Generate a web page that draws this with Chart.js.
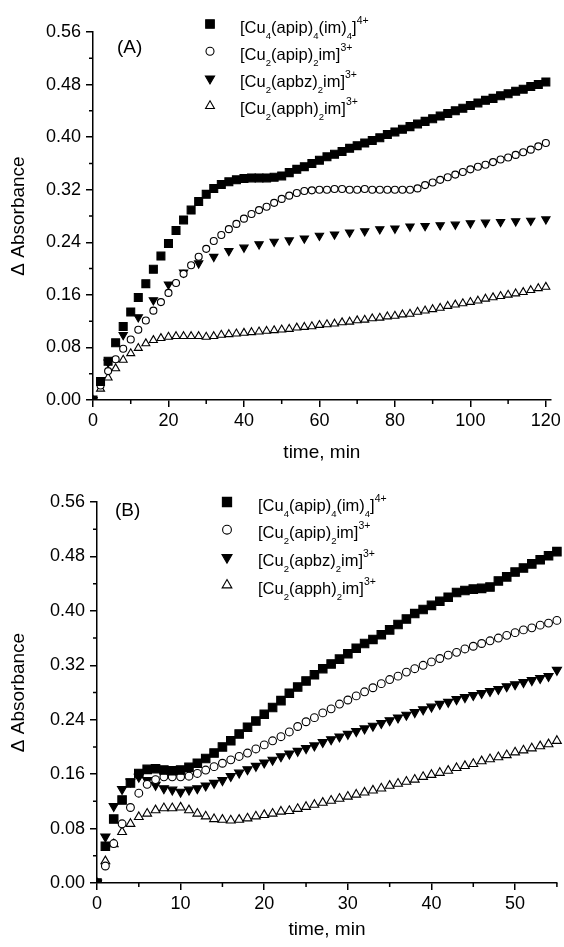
<!DOCTYPE html>
<html>
<head>
<meta charset="utf-8">
<script src="https://cdn.jsdelivr.net/npm/chart.js@4.4.1/dist/chart.umd.min.js"></script>
<style>
  body { margin: 0; background: #fff; }
  .panel { position: absolute; left: 0; width: 564px; }
  #boxA { top: 0; height: 470px; }
  #boxB { top: 470px; height: 477px; }
</style>
</head>
<body>
<div class="panel" id="boxA"><canvas id="chartA"></canvas></div>
<div class="panel" id="boxB"><canvas id="chartB"></canvas></div>
<script>
// legend text, "_" = subscript, "^" = superscript
const legendParts = [
    ['[Cu', '_4', '(apip)', '_4', '(im)', '_4', ']', '^4+'],
    ['[Cu', '_2', '(apip)', '_2', 'im]', '^3+'],
    ['[Cu', '_2', '(apbz)', '_2', 'im]', '^3+'],
    ['[Cu', '_2', '(apph)', '_2', 'im]', '^3+']
];

// ---- panel A (time in min) ----
const timeA = [0, 2, 4, 6, 8, 10, 12, 14, 16, 18, 20, 22, 24, 26, 28, 30, 32, 34, 36, 38, 40,
    42, 44, 46, 48, 50, 52, 54, 56, 58, 60, 62, 64, 66, 68, 70, 72, 74, 76, 78, 80,
    82, 84, 86, 88, 90, 92, 94, 96, 98, 100, 102, 104, 106, 108, 110, 112, 114, 116, 118, 120];
const timeA4 = [0, 4, 8, 12, 16, 20, 24, 28, 32, 36, 40, 44, 48, 52, 56, 60, 64, 68, 72, 76, 80,
    84, 88, 92, 96, 100, 104, 108, 112, 116, 120];
const cu4A = [0, 0.028, 0.059, 0.087, 0.112, 0.134, 0.156, 0.177, 0.199, 0.219, 0.238,
    0.258, 0.274, 0.289, 0.302, 0.313, 0.322, 0.328, 0.332, 0.335, 0.337,
    0.338, 0.338, 0.338, 0.339, 0.341, 0.346, 0.351, 0.355, 0.360, 0.365,
    0.370, 0.374, 0.378, 0.383, 0.387, 0.391, 0.395, 0.399, 0.404, 0.408,
    0.412, 0.416, 0.420, 0.424, 0.428, 0.432, 0.436, 0.440, 0.444, 0.448,
    0.452, 0.456, 0.459, 0.463, 0.466, 0.470, 0.473, 0.477, 0.480, 0.484];
const apipA = [0, 0.022, 0.044, 0.062, 0.078, 0.092, 0.107, 0.121, 0.136, 0.149, 0.163,
    0.178, 0.192, 0.205, 0.218, 0.230, 0.242, 0.251, 0.260, 0.268, 0.276,
    0.283, 0.289, 0.294, 0.300, 0.306, 0.311, 0.315, 0.318, 0.319, 0.320,
    0.320, 0.321, 0.321, 0.320, 0.320, 0.321, 0.320, 0.320, 0.320, 0.320,
    0.320, 0.320, 0.322, 0.327, 0.331, 0.335, 0.339, 0.343, 0.347, 0.351,
    0.355, 0.358, 0.362, 0.366, 0.369, 0.373, 0.377, 0.381, 0.386, 0.391];
const apbzA = [0, 0.057, 0.099, 0.126, 0.152, 0.176, 0.194, 0.208, 0.218, 0.227, 0.232,
    0.237, 0.241, 0.243, 0.246, 0.250, 0.252, 0.255, 0.257, 0.260, 0.261,
    0.264, 0.265, 0.266, 0.267, 0.269, 0.270, 0.271, 0.272, 0.273, 0.275];
const apphA = [0, 0.017, 0.034, 0.048, 0.061, 0.071, 0.079, 0.086, 0.091, 0.094, 0.096,
    0.097, 0.097, 0.097, 0.097, 0.096, 0.097, 0.099, 0.100, 0.101, 0.102,
    0.103, 0.104, 0.105, 0.106, 0.107, 0.108, 0.110, 0.111, 0.112, 0.114,
    0.115, 0.116, 0.118, 0.119, 0.121, 0.122, 0.124, 0.125, 0.127, 0.128,
    0.130, 0.131, 0.134, 0.136, 0.138, 0.140, 0.143, 0.145, 0.147, 0.149,
    0.151, 0.154, 0.156, 0.158, 0.160, 0.162, 0.164, 0.167, 0.170, 0.172];

// ---- panel B ----
const timeB = [0, 1, 2, 3, 4, 5, 6, 7, 8, 9, 10, 11, 12, 13, 14, 15, 16, 17, 18, 19, 20,
    21, 22, 23, 24, 25, 26, 27, 28, 29, 30, 31, 32, 33, 34, 35, 36, 37, 38, 39, 40,
    41, 42, 43, 44, 45, 46, 47, 48, 49, 50, 51, 52, 53, 54, 55];
const cu4B = [0, 0.054, 0.094, 0.122, 0.147, 0.161, 0.167, 0.168, 0.166, 0.165, 0.166,
    0.170, 0.176, 0.183, 0.191, 0.200, 0.209, 0.219, 0.229, 0.238, 0.248,
    0.258, 0.268, 0.279, 0.288, 0.297, 0.306, 0.315, 0.322, 0.329, 0.337,
    0.345, 0.352, 0.358, 0.365, 0.372, 0.380, 0.388, 0.396, 0.402, 0.408,
    0.414, 0.420, 0.427, 0.430, 0.432, 0.433, 0.435, 0.444, 0.450, 0.457,
    0.463, 0.469, 0.475, 0.481, 0.487];
const apipB = [0, 0.025, 0.058, 0.087, 0.111, 0.132, 0.145, 0.152, 0.156, 0.156, 0.156,
    0.157, 0.161, 0.166, 0.171, 0.176, 0.181, 0.186, 0.191, 0.197, 0.203,
    0.209, 0.215, 0.222, 0.230, 0.237, 0.243, 0.250, 0.256, 0.263, 0.269,
    0.275, 0.281, 0.287, 0.293, 0.299, 0.304, 0.310, 0.315, 0.320, 0.325,
    0.330, 0.335, 0.339, 0.344, 0.348, 0.352, 0.356, 0.360, 0.364, 0.368,
    0.372, 0.375, 0.379, 0.382, 0.386];
const apbzB = [0, 0.068, 0.113, 0.138, 0.149, 0.156, 0.151, 0.144, 0.139, 0.137, 0.134,
    0.137, 0.139, 0.143, 0.147, 0.151, 0.157, 0.162, 0.167, 0.172, 0.177,
    0.181, 0.186, 0.190, 0.194, 0.198, 0.202, 0.207, 0.211, 0.215, 0.219,
    0.223, 0.227, 0.231, 0.235, 0.239, 0.243, 0.247, 0.251, 0.255, 0.259,
    0.263, 0.266, 0.270, 0.273, 0.276, 0.279, 0.282, 0.285, 0.289, 0.292,
    0.295, 0.298, 0.301, 0.304, 0.313];
const apphB = [0, 0.032, 0.057, 0.075, 0.087, 0.097, 0.102, 0.107, 0.110, 0.110, 0.111,
    0.107, 0.102, 0.098, 0.094, 0.093, 0.092, 0.093, 0.095, 0.098, 0.100,
    0.102, 0.105, 0.106, 0.109, 0.112, 0.115, 0.118, 0.121, 0.124, 0.127,
    0.130, 0.133, 0.136, 0.139, 0.143, 0.146, 0.149, 0.152, 0.156, 0.159,
    0.162, 0.165, 0.169, 0.172, 0.175, 0.179, 0.182, 0.185, 0.188, 0.192,
    0.195, 0.198, 0.201, 0.204, 0.209];

// minor tick positions
const yMinor = [0.04, 0.12, 0.20, 0.28, 0.36, 0.44, 0.52];
const xMinorA = [10, 30, 50, 70, 90, 110];
const xMinorB = [5, 15, 25, 35, 45, 55];

const FONT = '"Liberation Sans", Arial, sans-serif';
Chart.defaults.font.family = FONT;
Chart.defaults.color = '#000';

function pts(xs, ys) {
    return xs.map(function (x, i) { return { x: x, y: ys[i] }; });
}

function series(xs, ys, style, r) {
    var filled = (style === 'rect' || style === 'down');
    return {
        data: pts(xs, ys),
        showLine: false,
        pointStyle: style === 'down' || style === 'up' ? 'triangle' : style,
        pointRotation: style === 'down' ? 180 : 0,
        pointRadius: r,
        pointHoverRadius: r,
        pointBackgroundColor: filled ? '#000' : '#fff',
        pointBorderColor: '#000',
        pointBorderWidth: 1.1,
        clip: { left: 0, bottom: 0, top: false, right: false }
    };
}

const minorTicks = {
    id: 'minorTicks',
    afterDraw(chart, args, opts) {
        const ctx = chart.ctx, xs = chart.scales.x, ys = chart.scales.y;
        ctx.save();
        ctx.strokeStyle = '#000';
        ctx.lineWidth = 1.5;
        ctx.beginPath();
        opts.x.forEach(function (v) {
            const px = xs.getPixelForValue(v);
            ctx.moveTo(px, xs.top);
            ctx.lineTo(px, xs.top + 4);
        });
        opts.y.forEach(function (v) {
            const py = ys.getPixelForValue(v);
            ctx.moveTo(ys.right, py);
            ctx.lineTo(ys.right - 4, py);
        });
        ctx.stroke();
        ctx.restore();
    }
};

const formulaLegend = {
    id: 'formulaLegend',
    afterDraw(chart, args, opts) {
        const ctx = chart.ctx;
        ctx.save();
        chart.data.datasets.forEach(function (ds, i) {
            const y = opts.top + i * opts.rowGap;
            ctx.fillStyle = ds.pointBackgroundColor;
            ctx.strokeStyle = '#000';
            ctx.lineWidth = 1.1;
            Chart.helpers.drawPoint(ctx, {
                pointStyle: ds.pointStyle, rotation: ds.pointRotation,
                radius: ds.pointRadius + 0.5, borderWidth: 1.1
            }, opts.markerX, y);
            ctx.fillStyle = '#000';
            ctx.textBaseline = 'alphabetic';
            let x = opts.textX;
            legendParts[i].forEach(function (part) {
                let size = 16.5, dy = 0, txt = part;
                if (part[0] === '_') { size = 9.5; dy = 6; txt = part.slice(1); }
                if (part[0] === '^') { size = 10.5; dy = -9; txt = part.slice(1); }
                ctx.font = size + 'px ' + FONT;
                ctx.fillText(txt, x, y + 8.5 + dy);
                x += ctx.measureText(txt).width;
            });
        });
        ctx.font = '19px ' + FONT;
        ctx.fillText(opts.tag, opts.tagX, opts.tagY);
        ctx.restore();
    }
};

function makePanel(id, datasets, xMax, xStep, xMinor, yWidth, xHeight, padRight, legend) {
    return new Chart(document.getElementById(id), {
        type: 'scatter',
        data: { datasets: datasets },
        options: {
            responsive: true,
            maintainAspectRatio: false,
            animation: false,
            layout: { padding: { top: 32, left: 0, right: padRight, bottom: 0 } },
            plugins: {
                legend: { display: false },
                tooltip: { enabled: false },
                minorTicks: { x: xMinor, y: yMinor },
                formulaLegend: legend
            },
            scales: {
                x: {
                    type: 'linear', min: 0, max: xMax,
                    border: { color: '#000', width: 1.5 },
                    grid: { drawOnChartArea: false, tickLength: 7, color: '#000', lineWidth: 1.5 },
                    ticks: { stepSize: xStep, includeBounds: false, padding: 3, font: { size: 18 } },
                    title: { display: true, text: 'time, min', font: { size: 19 }, padding: { top: 0, bottom: 6 } },
                    afterFit: function (s) { s.height = xHeight; }
                },
                y: {
                    type: 'linear', min: 0, max: 0.56,
                    border: { color: '#000', width: 1.5 },
                    grid: { drawOnChartArea: false, tickLength: 7, color: '#000', lineWidth: 1.5 },
                    ticks: {
                        stepSize: 0.08, padding: 5, font: { size: 18 },
                        callback: function (v) { return v.toFixed(2); }
                    },
                    title: { display: true, text: '\u0394 Absorbance', font: { size: 19 }, padding: { top: 7, bottom: 0 } },
                    afterFit: function (s) { s.width = yWidth; }
                }
            }
        },
        plugins: [minorTicks, formulaLegend]
    });
}

makePanel('chartA', [
    series(timeA, cu4A, 'rect', 5.6),
    series(timeA, apipA, 'circle', 3.5),
    series(timeA4, apbzA, 'down', 4.8),
    series(timeA, apphA, 'up', 4.6)
], 121.3, 20, xMinorA, 93, 70, 12,
    { markerX: 210, textX: 240, top: 24, rowGap: 27.3, tag: '(A)', tagX: 117, tagY: 53 });

makePanel('chartB', [
    series(timeB, cu4B, 'rect', 6),
    series(timeB, apipB, 'circle', 3.9),
    series(timeB, apbzB, 'down', 5.3),
    series(timeB, apphB, 'up', 5.1)
], 55, 10, xMinorB, 97, 64, 1,
    { markerX: 227, textX: 258, top: 32, rowGap: 27.7, tag: '(B)', tagX: 115, tagY: 46 });
</script>
</body>
</html>
